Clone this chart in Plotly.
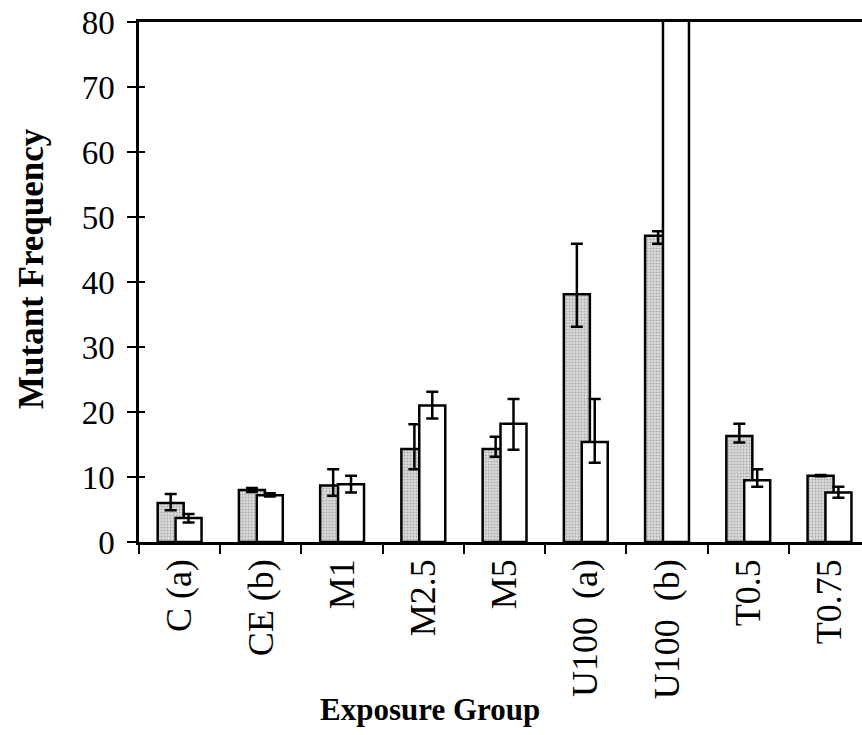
import plotly.graph_objects as go

categories = ["C (a)", "CE (b)", "M1", "M2.5", "M5", "U100 \u00a0(a)", "U100 \u00a0(b)", "T0.5", "T0.75"]
grey_vals = [6.0, 8.0, 8.7, 14.3, 14.3, 38.1, 47.1, 16.3, 10.2]
grey_err_plus = [1.4, 0.3, 2.5, 3.8, 1.9, 7.8, 0.7, 1.9, 0.1]
grey_err_minus = [1.1, 0.3, 1.6, 3.1, 1.2, 5.0, 1.2, 1.0, 0.1]
white_vals = [3.7, 7.2, 8.9, 21.0, 18.2, 15.4, 90.0, 9.5, 7.6]
white_err_plus = [0.6, 0.3, 1.3, 2.1, 3.8, 6.6, 0.0, 1.7, 0.9]
white_err_minus = [0.7, 0.2, 1.3, 2.0, 4.0, 3.2, 0.0, 1.0, 0.8]
y_ticks = [0, 10, 20, 30, 40, 50, 60, 70, 80]

FONT = "Liberation Serif"

fig = go.Figure()
fig.add_trace(go.Bar(
    x=categories, y=grey_vals, width=0.32, offset=-0.27,
    marker=dict(color="#d4d4d4",
                pattern=dict(shape=".", fgcolor="#7a7a7a", bgcolor="#dcdcdc", size=3, solidity=0.35),
                line=dict(color="black", width=2.5)),
    error_y=dict(type="data", symmetric=False, array=grey_err_plus, arrayminus=grey_err_minus,
                 color="black", thickness=2.5, width=6),
    showlegend=False,
))
fig.add_trace(go.Bar(
    x=categories, y=white_vals, width=0.32, offset=-0.05,
    marker=dict(color="white", line=dict(color="black", width=2.5)),
    error_y=dict(type="data", symmetric=False, array=white_err_plus, arrayminus=white_err_minus,
                 color="black", thickness=2.5, width=6),
    showlegend=False,
))
# invisible trace to carry the inner tick axis
fig.add_trace(go.Scatter(x=[categories[0]], y=[0], yaxis="y2", mode="markers",
                         marker=dict(opacity=0), showlegend=False, hoverinfo="skip"))

pw, ph = 862 - 139, 735 - 22 - 193

def px_x(v):
    return (v - 139) / pw

def px_y(v):
    return (735 - v - 193) / ph

fig.update_layout(
    width=862, height=735,
    margin=dict(l=139, r=0, t=22, b=193),
    paper_bgcolor="white", plot_bgcolor="white",
    barmode="overlay",
    font=dict(family=FONT, color="black"),
    xaxis=dict(
        type="category", categoryorder="array", categoryarray=categories,
        range=[-0.5, 8.4], tickson="boundaries",
        tickangle=-90, tickfont=dict(family=FONT, size=36, color="black"),
        showline=True, linecolor="black", linewidth=2.5, mirror=True,
        ticks="outside", ticklen=9, tickwidth=2, tickcolor="black",
        showgrid=False, zeroline=False, layer="below traces",
    ),
    yaxis=dict(
        range=[0, 80], tickvals=y_ticks, tickfont=dict(family=FONT, size=33, color="black"),
        showline=True, linecolor="black", linewidth=2.5,
        ticks="outside", ticklen=9, tickwidth=2, tickcolor="black",
        ticklabelstandoff=6,
        showgrid=False, zeroline=False,
    ),
    yaxis2=dict(
        range=[0, 80], tickvals=y_ticks, overlaying="y", side="left", anchor="x",
        showticklabels=False, ticks="inside", ticklen=6, tickwidth=2, tickcolor="black",
        showline=False, showgrid=False, zeroline=False,
    ),
    annotations=[
        dict(text="<b>Exposure Group</b>", x=px_x(430), y=px_y(709), xref="paper", yref="paper",
             xanchor="center", yanchor="middle",
             showarrow=False, font=dict(family=FONT, size=31, color="black")),
        dict(text="<b>Mutant Frequency</b>", x=px_x(31), y=px_y(269), xref="paper", yref="paper",
             xanchor="center", yanchor="middle",
             showarrow=False, textangle=-90, font=dict(family=FONT, size=35, color="black")),
    ],
)

fig.write_html("out.html")
